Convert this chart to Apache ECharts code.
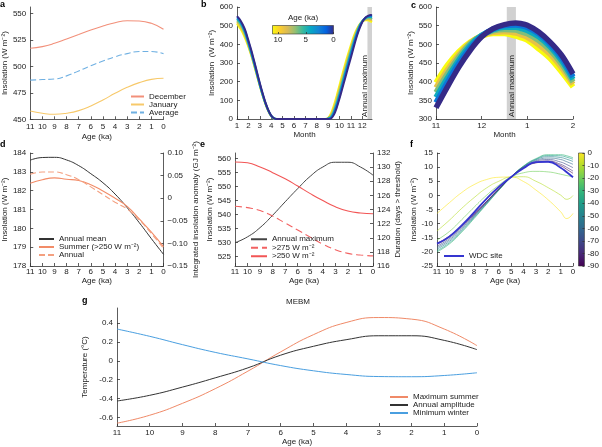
<!DOCTYPE html>
<html><head><meta charset="utf-8">
<script src="https://cdn.jsdelivr.net/npm/echarts@6/dist/echarts.min.js"></script>
<style>html,body{margin:0;padding:0;background:#fff}#c{width:602px;height:447px}</style>
</head><body><div id="c"></div>
<script>
// ================= DATA =================
const ageTicks = [11,10,9,8,7,6,5,4,3,2,1,0];
const ages = [11,10,9,8,7,6,5,4,3,2,1,0];

// Panel a
const decA = [517,518.6,521.7,525.8,530,534.3,538,541.2,543,542.8,540.6,535];
const janA = [457.9,455.7,454.7,455.7,458.2,462.6,468.2,474.5,480.2,484.6,487.7,488.7];
const avgA = [487,487.5,488,491,495.6,500.6,505,509,512,514,514,512];
const aYTicks = [450,475,500,525,550];

// Panel b / c (daily insolation vs month, several ages)
const monthB = [1,1.25,1.5,1.75,2,2.25,2.5,2.75,3,3.25,3.5,3.75,4,4.25,4.5,8.75,9,9.25,9.5,9.75,10,10.25,10.5,10.75,11,11.25,11.5,11.75,12,12.25,12.5,12.75,12.85];
const ageB = [11,8.8,6.6,4.4,2.2,0];
const insB11 = [511,488,462,426,386,340,288,233,178,126,80,42,15,2,0,0,6,30,72,125,182,240,296,348,397,444,480,506,522,529,529,522,518];
const insB88 = [519,499,473,437,393,344,291,235,179,127,81,43,15,2,0,0,4,22,58,109,165,222,278,332,384,432,473,504,523,532,534,530,526];
const insB66 = [528,510,484,447,399,349,295,238,181,128,82,44,16,3,0,0,3,15,46,94,148,205,262,317,371,421,466,502,524,536,540,538,534];
const insB44 = [537,520,493,456,406,355,299,241,184,130,83,45,17,3,0,0,2,10,37,81,134,191,248,303,358,410,458,497,524,539,546,546,543];
const insB22 = [545,528,500,464,413,362,305,246,188,134,85,46,18,4,0,0,1,6,29,70,122,178,234,290,344,398,449,491,522,541,550,552,550];
const insB0  = [551,533,506,471,421,370,312,252,193,138,88,48,19,4,0,0,0,3,22,60,110,165,220,276,330,386,439,484,520,542,553,557,556];
const colB = ['#f9fb0e','#e7c246','#80be7b','#0eabbe','#0c77da','#352a87'];
const bXTicks = [1,2,3,4,5,6,7,8,9,10,11,12];
const bYTicks = [0,100,200,300,400,500,600];
const cXTicks = [11,12,13,14];
const cXLabels = ['11','12','1','2'];
const cYTicks = [300,350,400,450,500,550,600];
const barB = [12.45,12.85];
const barC = [12.55,12.75];
const cbBTicks = [10,5,0];

// Panel d
const meanD = [183.62,183.76,183.77,183.63,183.33,182.9,182.42,181.82,181.1,180.3,179.45,178.62];
const summerD = [0.033,0.041,0.045,0.042,0.039,0.030,0.016,0.000,-0.018,-0.046,-0.075,-0.107];
const annualD = [0.053,0.058,0.058,0.052,0.041,0.025,0.008,-0.009,-0.024,-0.048,-0.078,-0.111];
const dYTicks = [178,179,180,181,182,183,184];
const dY2Ticks = [-0.15,-0.1,-0.05,0,0.05,0.1];

// Panel e
const maxE = [530,532.1,535.4,539.8,544.6,549.3,553.7,557,558.7,558.7,557,554.1];
const d275E = [124.46,124.26,123.86,123.07,122.08,121.09,120.09,119.10,118.31,117.79,117.55,117.43];
const d250E = [130.73,130.61,130.02,129.22,128.35,127.32,126.25,125.26,124.38,123.79,123.51,123.39];
const eYTicks = [525,530,535,540,545,550,555,560];
const eY2Ticks = [116,118,120,122,124,126,128,130,132];

// Panel f
const ageF = [11,10,9,8,7,6,5,4,3,2,1,0.5,0];
const latF = [0,-10,-20,-30,-40,-50,-60,-70,-80,-90];
const f0  = [-6.4,-2.6,1.0,3.8,5.6,6.4,6.5,4.9,1.9,-1.6,-5.8,-8.2,-6.4];
const f10 = [-12.6,-8.8,-4.6,-0.8,2.6,5.0,6.5,6.6,5.0,2.7,0.1,-1.4,-0.1];
const f20 = [-15.8,-12.8,-8.6,-4.2,0,3.6,6.5,8.0,8.5,8.3,7.5,7.0,6.6];
const f30 = [-20.0,-17.2,-13.0,-8.2,-3.2,1.8,6.5,10.4,13.0,14.4,14.4,14.0,13.3];
const f40 = [-19.6,-16.8,-12.6,-7.9,-3.0,1.9,6.5,10.3,12.8,14.1,14.0,13.5,12.8];
const f50 = [-19.0,-16.3,-12.2,-7.6,-2.8,2.0,6.5,10.2,12.6,13.7,13.4,12.8,12.0];
const f60 = [-18.5,-15.8,-11.8,-7.3,-2.6,2.1,6.5,10.1,12.3,13.2,12.7,11.9,11.0];
const f70 = [-18.0,-15.3,-11.4,-7.0,-2.4,2.2,6.5,9.9,12.0,12.7,11.8,10.9,9.8];
const f80 = [-17.4,-14.8,-11.0,-6.8,-2.3,2.3,6.5,9.8,11.7,12.2,11.0,9.9,8.6];
const f90 = [-17.0,-14.4,-10.7,-6.6,-2.2,2.4,6.5,9.7,11.5,11.9,10.5,9.2,7.8];
const fWDC = [-17.1,-14.6,-10.6,-6.0,-1.2,3.0,6.5,9.6,11.8,11.9,9.8,8.2,6.4];
const colF = ['#fde725','#b5de2b','#6ece58','#35b779','#1f9e89','#26828e','#31688e','#3e4989','#482878','#440154'];
const fYTicks = [-25,-20,-15,-10,-5,0,5,10,15];
const cbFTicks = [0,-10,-20,-30,-40,-50,-60,-70,-80,-90];

// Panel g
const maxSummerG = [-0.66,-0.576,-0.45,-0.295,-0.109,0.095,0.277,0.406,0.459,0.442,0.337,0.161];
const amplitudeG = [-0.425,-0.365,-0.278,-0.18,-0.074,0.06,0.154,0.224,0.266,0.266,0.217,0.119];
const minWinterG = [0.337,0.26,0.172,0.09,0.021,-0.05,-0.105,-0.144,-0.166,-0.168,-0.155,-0.126];
const gYTicks = [-0.6,-0.4,-0.2,0,0.2,0.4];

// ================= CHART =================
const FONT = '"Liberation Sans", Arial, sans-serif';
const TXT = '#222';
function axis(o) {
  return {
    type: 'value', gridIndex: o.grid, min: o.min, max: o.max, inverse: !!o.inverse,
    position: o.position, show: o.show !== false,
    axisLine: {show: o.line !== false, onZero: false, lineStyle: {color: '#333', width: 0.8}},
    axisTick: {show: !!o.ticks, inside: true, length: o.tickLen || 3, customValues: o.ticks, lineStyle: {color: '#333', width: 0.8}},
    axisLabel: {show: !!o.ticks, customValues: o.ticks, formatter: o.fmt, fontSize: 8, color: TXT, fontFamily: FONT, margin: o.margin != null ? o.margin : 3},
    splitLine: {show: false},
    name: o.name || '', nameLocation: 'middle', nameGap: o.nameGap || 0, nameRotate: o.rotate,
    nameTextStyle: {fontSize: 8, color: TXT, fontFamily: FONT}
  };
}
function line(name, xs, ys, color, xi, yi, extra) {
  return Object.assign({
    type: 'line', name: name, xAxisIndex: xi, yAxisIndex: yi,
    data: xs.map((x, i) => [x, ys[i]]), symbol: 'none', showSymbol: false, smooth: true,
    lineStyle: {color: color, width: 1}, itemStyle: {color: color}, silent: true
  }, extra || {});
}
const ws = ' W m\u207B\u00B2';

const grids = [
  {left: 25, top: 7, width: 138.5, height: 112.3},
  {left: 237, top: 7, width: 135, height: 112},
  {left: 436, top: 7, width: 137, height: 112},
  {left: 26, top: 153, width: 137.5, height: 113},
  {left: 235, top: 153, width: 138, height: 113},
  {left: 437, top: 153, width: 136, height: 113},
  {left: 117, top: 308, width: 360, height: 119},
  {left: 272.5, top: 25.5, width: 61, height: 8.5, show: true, borderColor: '#333', borderWidth: 0.6,
    backgroundColor: new echarts.graphic.LinearGradient(0, 0, 1, 0, [
      {offset: 0, color: '#f9fb0e'}, {offset: 0.125, color: '#fcce2e'}, {offset: 0.25, color: '#d9ba56'},
      {offset: 0.375, color: '#92bf73'}, {offset: 0.5, color: '#38b99e'}, {offset: 0.625, color: '#06a7c6'},
      {offset: 0.75, color: '#1485d4'}, {offset: 0.875, color: '#0363e1'}, {offset: 1, color: '#352a87'}])},
  {left: 578.5, top: 153, width: 7, height: 113, show: true, borderColor: '#333', borderWidth: 0.6,
    backgroundColor: new echarts.graphic.LinearGradient(0, 0, 0, 1,
      colF.map((c, i) => ({offset: i / (colF.length - 1), color: c})))}
];

const xAxes = [
  axis({grid: 0, min: 0, max: 11, inverse: true, ticks: ageTicks, name: 'Age (ka)', nameGap: 13}),
  axis({grid: 1, min: 1, max: 12.85, ticks: bXTicks, name: 'Month', nameGap: 12}),
  axis({grid: 2, min: 11, max: 14, ticks: cXTicks, fmt: v => cXLabels[cXTicks.indexOf(v)], name: 'Month', nameGap: 12}),
  axis({grid: 3, min: 0, max: 11, inverse: true, ticks: ageTicks, name: 'Age (ka)', nameGap: 11, margin: 2}),
  axis({grid: 4, min: 0, max: 11, inverse: true, ticks: ageTicks, name: 'Age (ka)', nameGap: 10, margin: 2}),
  axis({grid: 5, min: 0, max: 11, inverse: true, ticks: ageTicks, name: 'Age (ka)', nameGap: 10, margin: 2}),
  axis({grid: 6, min: 0, max: 11, inverse: true, ticks: ageTicks, name: 'Age (ka)', nameGap: 12}),
  axis({grid: 7, min: 0, max: 11, inverse: true, ticks: cbBTicks, line: false, tickLen: 2, margin: 2}),
  axis({grid: 8, min: 0, max: 1, show: false})
];
const yAxes = [
  axis({grid: 0, min: 450, max: 556, ticks: aYTicks, name: 'Insolation (' + ws.trim() + ')', nameGap: 17, rotate: 90, margin: 4}),
  axis({grid: 1, min: 0, max: 600, ticks: bYTicks, name: 'Insolation  (' + ws.trim() + ')', nameGap: 20, rotate: 90, margin: 4}),
  axis({grid: 2, min: 300, max: 600, ticks: cYTicks, name: 'Insolation (' + ws.trim() + ')', nameGap: 19, rotate: 90, margin: 4}),
  axis({grid: 3, min: 178, max: 184, ticks: dYTicks, name: 'Insolation (' + ws.trim() + ')', nameGap: 17, rotate: 90, margin: 4}),
  axis({grid: 3, min: -0.15, max: 0.1, position: 'right', ticks: dY2Ticks,
        fmt: v => (Math.abs(v) < 1e-9 ? '0' : (v < 0 ? '\u2212' : '') + Math.abs(v).toFixed(2)),
        name: 'Integrated insolation anomaly (GJ m\u207B\u00B2)', nameGap: 27, rotate: 90, margin: 4}),
  axis({grid: 4, min: 521.7, max: 562, ticks: eYTicks, name: 'Insolation (' + ws.trim() + ')', nameGap: 16, rotate: 90, margin: 4}),
  axis({grid: 4, min: 116, max: 132, position: 'right', ticks: eY2Ticks, name: 'Duration (days > threshold)', nameGap: 20, rotate: 90, margin: 4}),
  axis({grid: 5, min: -25, max: 15, ticks: fYTicks, name: 'Insolation (' + ws.trim() + ')', nameGap: 18, rotate: 90, margin: 4}),
  axis({grid: 6, min: -0.69, max: 0.56, ticks: gYTicks, fmt: v => (Math.abs(v) < 1e-9 ? '0' : v.toFixed(1)), name: 'Temperature (\u00B0C)', nameGap: 19, rotate: 90, margin: 4}),
  axis({grid: 7, min: 0, max: 1, show: false}),
  axis({grid: 8, min: -90, max: 0, position: 'right', ticks: cbFTicks, line: false, tickLen: 2, margin: 3})
];

const series = [];
// a
series.push(line('December', ages, decA, '#f2907a', 0, 0, {lineStyle: {color: '#f2907a', width: 1.1}}));
series.push(line('January', ages, janA, '#f7c96a', 0, 0, {lineStyle: {color: '#f7c96a', width: 1.1}}));
series.push(line('Average', ages, avgA, '#6fb0e2', 0, 0, {lineStyle: {color: '#6fb0e2', width: 1.1, type: [6, 3]}}));
// b & c
const insB = [insB11, insB88, insB66, insB44, insB22, insB0];
insB.forEach((vals, k) => {
  series.push({type: 'line', name: 'b' + ageB[k], xAxisIndex: 1, yAxisIndex: 1, silent: true,
    data: monthB.map((m, i) => [m, vals[i]]), symbol: 'none', smooth: 0.3,
    lineStyle: {color: colB[k], width: 2}, z: 2});
  const cData = [];
  monthB.forEach((m, i) => { if (m >= 11) cData.push([m, vals[i]]); });
  monthB.forEach((m, i) => { if (m <= 2) cData.push([m + 12, vals[i]]); });
  series.push({type: 'line', name: 'c' + ageB[k], xAxisIndex: 2, yAxisIndex: 2, silent: true,
    data: cData, symbol: 'none', smooth: 0.3, lineStyle: {color: colB[k], width: 5.5}, z: 2});
});
series.push({type: 'line', name: 'barB', xAxisIndex: 1, yAxisIndex: 1, data: [[12.6, 300]], symbol: 'none', showSymbol: false, silent: true, z: 5,
  markArea: {silent: true, itemStyle: {color: 'rgba(190,190,190,0.7)'}, data: [[{xAxis: barB[0]}, {xAxis: barB[1]}]]}});
series.push({type: 'line', name: 'barC', xAxisIndex: 2, yAxisIndex: 2, data: [[12.6, 450]], symbol: 'none', showSymbol: false, silent: true, z: 5,
  markArea: {silent: true, itemStyle: {color: 'rgba(190,190,190,0.7)'}, data: [[{xAxis: barC[0]}, {xAxis: barC[1]}]]}});
// d
series.push(line('Annual mean', ages, meanD, '#333333', 3, 3));
series.push(line('Summer (>250' + ws + ')', ages, summerD, '#f28c68', 3, 4, {lineStyle: {color: '#f28c68', width: 1.1}}));
series.push(line('Annual', ages, annualD, '#f4a080', 3, 4, {lineStyle: {color: '#f4a080', width: 1.1, type: [6, 3]}}));
// e
series.push(line('Annual maximum', ages, maxE, '#444444', 4, 5));
series.push(line('>275' + ws, ages, d275E, '#f26262', 4, 6, {lineStyle: {color: '#f26262', width: 1.1, type: [7, 4]}}));
series.push(line('>250' + ws, ages, d250E, '#f25555', 4, 6, {lineStyle: {color: '#f25555', width: 1.1}}));
// f
const fCurves = [f0, f10, f20, f30, f40, f50, f60, f70, f80, f90];
fCurves.forEach((vals, k) => {
  series.push(line('lat' + latF[k], ageF, vals, colF[k], 5, 7, {lineStyle: {color: colF[k], width: 1, opacity: 0.6}}));
});
series.push(line('WDC site', ageF, fWDC, '#3535d0', 5, 7, {lineStyle: {color: '#3535d0', width: 1.8}}));
// g
series.push(line('Maximum summer', ages, maxSummerG, '#f08a68', 6, 8));
series.push(line('Annual amplitude', ages, amplitudeG, '#333333', 6, 8));
series.push(line('Minimum winter', ages, minWinterG, '#4a9fe0', 6, 8));

function legend(names, left, top, w, lh) {
  return {data: names, orient: 'vertical', left: left, top: top, padding: 0, itemGap: 0,
    itemWidth: w, itemHeight: lh, selectedMode: false,
    itemStyle: {opacity: 0, borderWidth: 0},
    textStyle: {fontSize: 8, lineHeight: lh, color: TXT, fontFamily: FONT}};
}

const lbl = (t, x, y) => ({type: 'text', x: x, y: y, style: {text: t, font: 'bold 9px "Liberation Sans", Arial', fill: '#000'}});
const option = {
  animation: false,
  backgroundColor: '#fff',
  title: {text: 'MEBM', left: 298, top: 298, textAlign: 'center', padding: 0,
    textStyle: {fontSize: 8, fontWeight: 'normal', color: TXT, fontFamily: FONT}},
  grid: grids, xAxis: xAxes, yAxis: yAxes, series: series,
  legend: [
    legend(['December', 'January', 'Average'], 130, 92.5, 13, 7),
    legend(['Annual mean', 'Summer (>250' + ws + ')', 'Annual'], 38, 235, 15, 8),
    legend(['Annual maximum', '>275' + ws, '>250' + ws], 250, 235, 16, 8.5),
    legend(['WDC site'], 443, 252, 20, 8),
    legend(['Maximum summer', 'Annual amplitude', 'Minimum winter'], 389, 393, 18, 7.7)
  ],
  graphic: [
    lbl('a', 0, 0), lbl('b', 201, 0), lbl('c', 411, 1), lbl('d', 0, 140), lbl('e', 200, 140), lbl('f', 410, 140), lbl('g', 82, 296),
    {type: 'text', x: 365, y: 86, rotation: Math.PI / 2, z: 20,
      style: {text: 'Annual maximum', font: '8px "Liberation Sans", Arial', fill: TXT, align: 'center', verticalAlign: 'middle'}},
    {type: 'text', x: 511.5, y: 86, rotation: Math.PI / 2, z: 20,
      style: {text: 'Annual maximum', font: '8px "Liberation Sans", Arial', fill: TXT, align: 'center', verticalAlign: 'middle'}},
    {type: 'text', x: 303, y: 18, z: 20,
      style: {text: 'Age (ka)', font: '8px "Liberation Sans", Arial', fill: TXT, align: 'center', verticalAlign: 'middle'}}
  ]
};
const chart = echarts.init(document.getElementById('c'), null, {renderer: 'canvas'});
chart.setOption(option);
</script></body></html>
